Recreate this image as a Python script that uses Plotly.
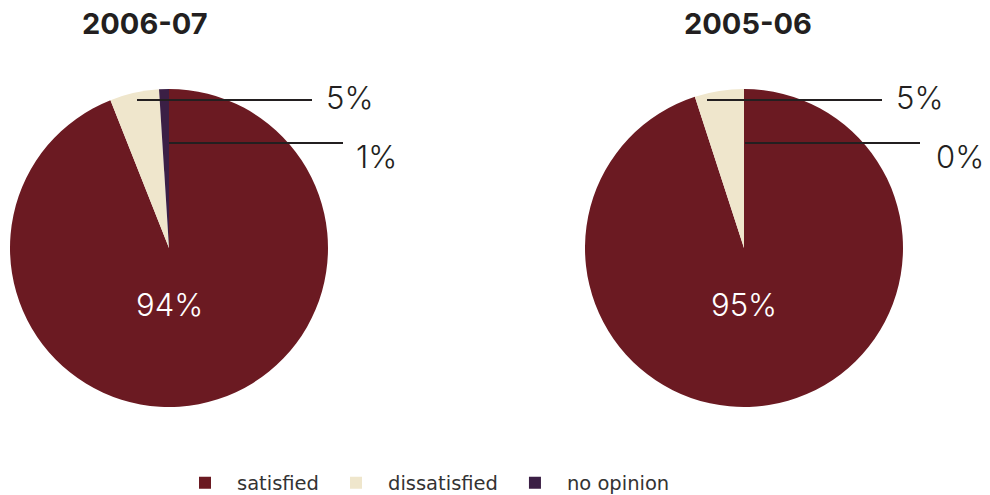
import plotly.graph_objects as go

categories = ["satisfied", "dissatisfied", "no opinion"]
values_2006_07 = [94, 5, 1]
values_2005_06 = [95, 5, 0]
years = ["2006-07", "2005-06"]
colors = ["#6b1a22", "#efe6cc", "#3b1f45"]

W, H = 990, 495
def px(x): return x / W
def py(y): return 1 - y / H

fig = go.Figure()
domains = [
    dict(x=[px(10), px(328)], y=[py(407), py(89)]),
    dict(x=[px(585), px(903)], y=[py(407), py(89)]),
]
for vals, dom, first in [(values_2006_07, domains[0], True), (values_2005_06, domains[1], False)]:
    fig.add_trace(go.Pie(
        labels=categories, values=vals, sort=False, direction="clockwise",
        rotation=0, domain=dom, textinfo="none", hoverinfo="label+percent",
        marker=dict(colors=colors, line=dict(width=0)),
        showlegend=first,
    ))

lab_font = dict(family="Inter", size=31, color="#231f20", weight=300)
annos = []
shapes = []
centers = [169, 744]
for i, vals in enumerate([values_2006_07, values_2005_06]):
    cx = centers[i]
    annos.append(dict(x=px(cx), y=py(304), text=f"{vals[0]}%", showarrow=False,
                      xanchor="center", yanchor="middle",
                      font=dict(family="Inter", size=31, color="white", weight=300),
                      xref="paper", yref="paper"))
# (line x0, line x1, line y, label x, label y, text)
leaders = [
    (137, 312, 100, 324, 98, f"{values_2006_07[1]}%"),
    (169, 343, 143, 354, 156, f"{values_2006_07[2]}%"),
    (707, 882, 100, 894, 98, f"{values_2005_06[1]}%"),
    (745, 920, 143, 934, 156, f"{values_2005_06[2]}%"),
]
for x0, x1, y, tx, ty, txt in leaders:
    shapes.append(dict(type="line", xref="paper", yref="paper", x0=px(x0), x1=px(x1),
                       y0=py(y), y1=py(y), line=dict(color="#231f20", width=2)))
    annos.append(dict(x=px(tx), y=py(ty), text=txt, showarrow=False, xanchor="left",
                      yanchor="middle", font=lab_font, xref="paper", yref="paper"))
for x, t in [(145, years[0]), (748, years[1])]:
    annos.append(dict(x=px(x), y=py(24), text=t, showarrow=False,
                      xanchor="center", yanchor="middle",
                      font=dict(family="Inter", size=29, color="#231f20", weight=700),
                      xref="paper", yref="paper"))

fig.update_layout(
    width=W, height=H, margin=dict(l=0, r=0, t=0, b=0, autoexpand=False),
    paper_bgcolor="white", plot_bgcolor="white",
    annotations=annos, shapes=shapes,
    legend=dict(orientation="h", x=px(173), y=py(483), xanchor="left", yanchor="middle",
                font=dict(family="DejaVu Sans", size=19.5, color="#333333"),
                itemwidth=54, traceorder="normal"),
)
fig.write_html("out.html", config={"displayModeBar": False},
               post_script="document.body.style.margin='0';")
